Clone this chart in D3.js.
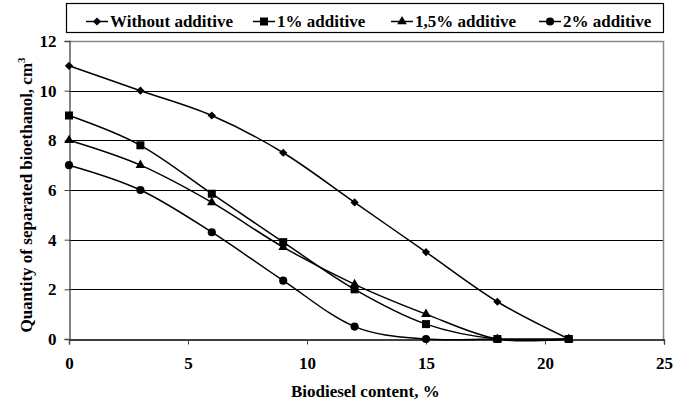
<!DOCTYPE html>
<html>
<head>
<meta charset="utf-8">
<script src="https://cdn.jsdelivr.net/npm/d3@7"></script>
<style>
  body { margin: 0; background: #fff; }
</style>
</head>
<body>
<div id="chart"></div>
<script>
// --- data ---
const biodiesel = [0, 3, 6, 9, 12, 15, 18, 21];
const withoutAdditive = [11, 10, 9, 7.5, 5.5, 3.5, 1.5, 0];
const additive1 = [9, 7.8, 5.85, 3.9, 2, 0.6, 0, 0];
const additive15 = [8, 7, 5.5, 3.7, 2.2, 1, 0, 0];
const additive2 = [7, 6, 4.3, 2.35, 0.5, 0, 0, 0];
const seriesNames = ['Without additive', '1% additive', '1,5% additive', '2% additive'];
const xTicks = [0, 5, 10, 15, 20, 25];
const yTicks = [0, 2, 4, 6, 8, 10, 12];

const FONT = "'Liberation Serif', 'DejaVu Serif', serif";
const W = 673, H = 404;
const margin = {top: 41, right: 9, bottom: 65, left: 69};
const width = W - margin.left - margin.right;
const height = H - margin.top - margin.bottom;

const svg = d3.select('#chart').append('svg')
    .attr('width', W).attr('height', H)
    .attr('font-family', FONT).attr('font-weight', 'bold');

const g = svg.append('g')
    .attr('transform', `translate(${margin.left},${margin.top})`);

const x = d3.scaleLinear().domain([0, 25]).range([0, width]);
const y = d3.scaleLinear().domain([0, 12]).range([height, 0]);

// gridlines
g.append('g').selectAll('line')
    .data(yTicks.filter(d => d > 0 && d < 12))
    .join('line')
    .attr('x1', 0).attr('x2', width)
    .attr('y1', d => Math.round(y(d)) + 0.5).attr('y2', d => Math.round(y(d)) + 0.5)
    .attr('stroke', '#000').attr('stroke-width', 1);

// plot border top / right (grey)
g.append('path')
    .attr('d', `M0,${y(12) + 0.5}H${width - 0.5}V${height}`)
    .attr('fill', 'none').attr('stroke', '#888').attr('stroke-width', 1.5);

// axes
const xAxis = g.append('g')
    .attr('transform', `translate(0,${Math.round(height) + 0.5})`)
    .call(d3.axisBottom(x).tickValues(xTicks).tickSize(5).tickPadding(12).tickFormat(d3.format('d')));
const yAxis = g.append('g')
    .attr('transform', 'translate(0.5,0)')
    .call(d3.axisLeft(y).tickValues(yTicks).tickSize(5).tickPadding(8).tickFormat(d3.format('d')));

[xAxis, yAxis].forEach(ax => {
    ax.attr('font-family', FONT).attr('font-size', 17).attr('font-weight', 'bold');
    ax.select('.domain').attr('stroke', '#444').attr('stroke-width', 1.3);
    ax.selectAll('.tick line').attr('stroke', '#444');
    ax.selectAll('.tick text').attr('fill', '#000');
});
xAxis.select('.domain').attr('stroke', '#000');

// axis titles
svg.append('text')
    .attr('x', margin.left + x(12.45)).attr('y', 397)
    .attr('text-anchor', 'middle')
    .attr('font-size', 17)
    .text('Biodiesel content, %');

const yTitle = svg.append('text')
    .attr('transform', 'translate(32,195) rotate(-90)')
    .attr('text-anchor', 'middle')
    .attr('font-size', 17);
yTitle.append('tspan').text('Quantity of separated bioethanol, cm');
yTitle.append('tspan').attr('dy', -7).attr('font-size', 11).text('3');

// series markers: Excel style diamond (rotated square), square, triangle, circle
const markers = [
    {type: d3.symbolSquare, size: 34, rotate: 45},
    {type: d3.symbolSquare, size: 64, rotate: 0},
    {type: d3.symbolTriangle, size: 40, rotate: 0},
    {type: d3.symbolCircle, size: 52, rotate: 0}
];
const seriesData = [withoutAdditive, additive1, additive15, additive2];

const line = d3.line()
    .x((d, i) => x(biodiesel[i]))
    .y(d => y(d))
    .curve(d3.curveCatmullRom.alpha(0));

seriesData.forEach(vals => {
    g.append('path')
        .attr('d', line(vals))
        .attr('fill', 'none').attr('stroke', '#000').attr('stroke-width', 1.5);
});
seriesData.forEach((vals, s) => {
    const m = markers[s];
    g.append('g').selectAll('path')
        .data(vals)
        .join('path')
        .attr('transform', (d, i) => `translate(${x(biodiesel[i])},${y(d)}) rotate(${m.rotate})`)
        .attr('d', d3.symbol().type(m.type).size(m.size))
        .attr('fill', '#000');
});

// legend
const legend = svg.append('g');
legend.append('rect')
    .attr('x', 66.5).attr('y', 3.5).attr('width', 597).attr('height', 29)
    .attr('fill', '#fff').attr('stroke', '#000').attr('stroke-width', 1.2);
const legendX = [86, 253, 391, 539];
seriesNames.forEach((name, s) => {
    const lx = legendX[s], m = markers[s];
    legend.append('line')
        .attr('x1', lx).attr('x2', lx + 22).attr('y1', 21.5).attr('y2', 21.5)
        .attr('stroke', '#000').attr('stroke-width', 1.5);
    legend.append('path')
        .attr('transform', `translate(${lx + 11},21.5) rotate(${m.rotate})`)
        .attr('d', d3.symbol().type(m.type).size(m.size))
        .attr('fill', '#000');
    legend.append('text')
        .attr('x', lx + 24).attr('y', 27)
        .attr('font-size', 17)
        .text(name);
});
</script>
</body>
</html>
